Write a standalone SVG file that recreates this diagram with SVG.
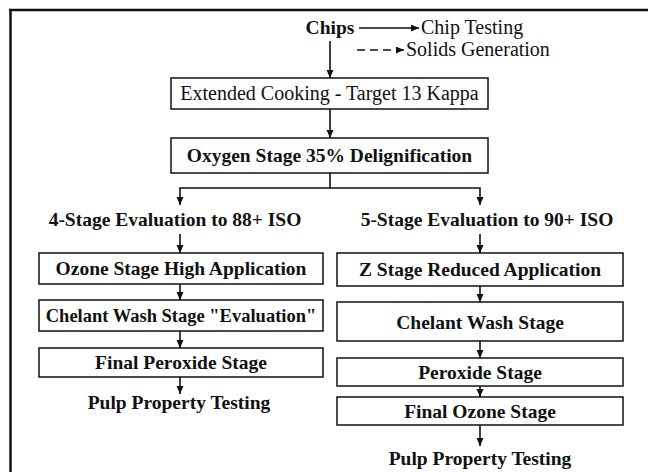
<svg xmlns="http://www.w3.org/2000/svg" width="648" height="472" viewBox="0 0 648 472">
<defs>
<marker id="ah" markerUnits="userSpaceOnUse" markerWidth="9" markerHeight="8" refX="8" refY="3.5" orient="auto">
<path d="M0,0 L8,3.5 L0,7 z" fill="#111"/>
</marker>
</defs>
<style>
.t{font-family:"Liberation Serif","Times New Roman",serif;font-size:19.5px;fill:#111;text-anchor:middle;font-weight:bold}
.r{font-weight:normal;font-size:20px}
.l{text-anchor:start}
.box{fill:#fff;stroke:#111;stroke-width:1.5}
.c{fill:none;stroke:#111;stroke-width:1.6}
.d{stroke-dasharray:8 5}
</style>
<rect x="0" y="0" width="648" height="472" fill="#fff"/>
<g id="frame">
<line x1="9" y1="10" x2="648" y2="10" stroke="#111" stroke-width="2.5"/>
<line x1="10.5" y1="9" x2="10.5" y2="472" stroke="#111" stroke-width="2.5"/>
</g>
<g id="connectors">
<line class="c" x1="359" y1="28" x2="419" y2="28" marker-end="url(#ah)"/>
<line class="c d" x1="357" y1="50" x2="404" y2="50" marker-end="url(#ah)"/>
<line class="c" x1="330" y1="41" x2="330" y2="78" marker-end="url(#ah)"/>
<line class="c" x1="330" y1="109" x2="330" y2="138" marker-end="url(#ah)"/>
<polyline class="c" points="330,173 330,188 180,188 180,205" marker-end="url(#ah)"/>
<polyline class="c" points="330,188 480,188 480,205" marker-end="url(#ah)"/>
<line class="c" x1="180" y1="234" x2="180" y2="253" marker-end="url(#ah)"/>
<line class="c" x1="480" y1="234" x2="480" y2="253" marker-end="url(#ah)"/>
<line class="c" x1="180" y1="284" x2="180" y2="300" marker-end="url(#ah)"/>
<line class="c" x1="480" y1="286" x2="480" y2="302" marker-end="url(#ah)"/>
<line class="c" x1="180" y1="331" x2="180" y2="348" marker-end="url(#ah)"/>
<line class="c" x1="480" y1="341" x2="480" y2="358" marker-end="url(#ah)"/>
<line class="c" x1="180" y1="377" x2="180" y2="394" marker-end="url(#ah)"/>
<line class="c" x1="480" y1="386" x2="480" y2="397" marker-end="url(#ah)"/>
<line class="c" x1="480" y1="425" x2="480" y2="446" marker-end="url(#ah)"/>
</g>
<g id="chips"><text class="t" x="330" y="34">Chips</text></g>
<g id="chip-testing"><text class="t r l" x="421" y="34">Chip Testing</text></g>
<g id="solids"><text class="t r l" x="406" y="56">Solids Generation</text></g>
<g id="cooking">
<rect class="box" x="171" y="78" width="317" height="31"/>
<text class="t r" x="329.5" y="100">Extended Cooking - Target 13 Kappa</text>
</g>
<g id="oxygen">
<rect class="box" x="171" y="138" width="317" height="35"/>
<text class="t" x="329.5" y="162">Oxygen Stage 35% Delignification</text>
</g>
<g id="eval4"><text class="t" x="175" y="226">4-Stage Evaluation to 88+ ISO</text></g>
<g id="eval5"><text class="t" x="487" y="226">5-Stage Evaluation to 90+ ISO</text></g>
<g id="ozone-high">
<rect class="box" x="39" y="253" width="284" height="31"/>
<text class="t" x="181" y="275">Ozone Stage High Application</text>
</g>
<g id="chelant-eval">
<rect class="box" x="39" y="300" width="284" height="31"/>
<text class="t" x="181" y="322" style="font-size:18.5px">Chelant Wash Stage "Evaluation"</text>
</g>
<g id="final-peroxide">
<rect class="box" x="39" y="348" width="284" height="29"/>
<text class="t" x="181" y="369">Final Peroxide Stage</text>
</g>
<g id="pulp-left"><text class="t" x="179" y="409">Pulp Property Testing</text></g>
<g id="z-reduced">
<rect class="box" x="337" y="253" width="286" height="33"/>
<text class="t" x="480" y="276">Z Stage Reduced Application</text>
</g>
<g id="chelant">
<rect class="box" x="337" y="302" width="286" height="39"/>
<text class="t" x="480" y="329">Chelant Wash Stage</text>
</g>
<g id="peroxide">
<rect class="box" x="337" y="358" width="286" height="28"/>
<text class="t" x="480" y="379">Peroxide Stage</text>
</g>
<g id="final-ozone">
<rect class="box" x="337" y="397" width="286" height="28"/>
<text class="t" x="480" y="418">Final Ozone Stage</text>
</g>
<g id="pulp-right"><text class="t" x="480" y="465">Pulp Property Testing</text></g>
</svg>
